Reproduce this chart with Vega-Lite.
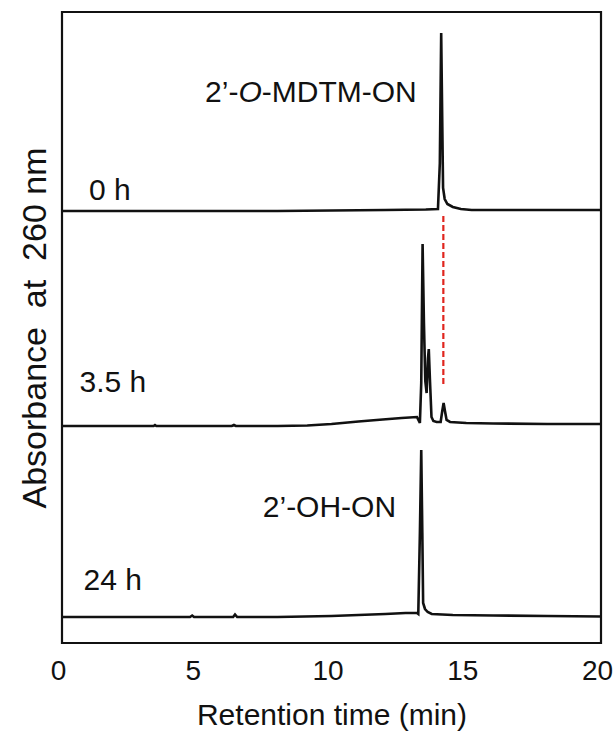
{
  "$schema": "https://vega.github.io/schema/vega-lite/v6.json",
  "width": 539,
  "height": 631,
  "autosize": {"type": "none"},
  "padding": {"left": 62, "top": 12, "right": 14, "bottom": 88},
  "background": "white",
  "config": {
    "view": {"stroke": "#111111", "strokeWidth": 2.2},
    "font": "Liberation Sans",
    "axis": {"grid": false, "domain": false, "ticks": false, "tickSize": 0, "titleFontWeight": "normal", "labelColor": "#111111", "titleColor": "#111111", "labelFont": "Liberation Sans", "titleFont": "Liberation Sans"}
  },
  "datasets": {
    "traces": [
      {"series": "0 h", "t": 0, "a": 432},
      {"series": "0 h", "t": 2, "a": 432},
      {"series": "0 h", "t": 4, "a": 432},
      {"series": "0 h", "t": 6, "a": 432},
      {"series": "0 h", "t": 8, "a": 432},
      {"series": "0 h", "t": 10, "a": 432.5},
      {"series": "0 h", "t": 12, "a": 433},
      {"series": "0 h", "t": 13.5, "a": 433.5},
      {"series": "0 h", "t": 13.95, "a": 434},
      {"series": "0 h", "t": 14.02, "a": 480},
      {"series": "0 h", "t": 14.07, "a": 610},
      {"series": "0 h", "t": 14.11, "a": 520},
      {"series": "0 h", "t": 14.14, "a": 455},
      {"series": "0 h", "t": 14.2, "a": 444},
      {"series": "0 h", "t": 14.3, "a": 439},
      {"series": "0 h", "t": 14.5, "a": 436},
      {"series": "0 h", "t": 14.8, "a": 434},
      {"series": "0 h", "t": 15.2, "a": 433},
      {"series": "0 h", "t": 17, "a": 433},
      {"series": "0 h", "t": 20, "a": 433},
      {"series": "3.5 h", "t": 0, "a": 217},
      {"series": "3.5 h", "t": 3.4, "a": 217},
      {"series": "3.5 h", "t": 3.45, "a": 218},
      {"series": "3.5 h", "t": 3.5, "a": 217},
      {"series": "3.5 h", "t": 6.3, "a": 217},
      {"series": "3.5 h", "t": 6.38, "a": 218},
      {"series": "3.5 h", "t": 6.45, "a": 217},
      {"series": "3.5 h", "t": 8, "a": 217},
      {"series": "3.5 h", "t": 9.1, "a": 217.5},
      {"series": "3.5 h", "t": 10, "a": 219},
      {"series": "3.5 h", "t": 11, "a": 221.5},
      {"series": "3.5 h", "t": 11.9, "a": 223.5},
      {"series": "3.5 h", "t": 12.6, "a": 225},
      {"series": "3.5 h", "t": 13.17, "a": 226},
      {"series": "3.5 h", "t": 13.28, "a": 220},
      {"series": "3.5 h", "t": 13.33, "a": 260},
      {"series": "3.5 h", "t": 13.38, "a": 399},
      {"series": "3.5 h", "t": 13.43, "a": 320},
      {"series": "3.5 h", "t": 13.48, "a": 262},
      {"series": "3.5 h", "t": 13.53, "a": 250},
      {"series": "3.5 h", "t": 13.58, "a": 285},
      {"series": "3.5 h", "t": 13.61, "a": 294},
      {"series": "3.5 h", "t": 13.65, "a": 265},
      {"series": "3.5 h", "t": 13.71, "a": 226},
      {"series": "3.5 h", "t": 13.78, "a": 222},
      {"series": "3.5 h", "t": 13.9, "a": 221},
      {"series": "3.5 h", "t": 14.05, "a": 221},
      {"series": "3.5 h", "t": 14.11, "a": 232},
      {"series": "3.5 h", "t": 14.16, "a": 240},
      {"series": "3.5 h", "t": 14.21, "a": 232},
      {"series": "3.5 h", "t": 14.27, "a": 223},
      {"series": "3.5 h", "t": 14.4, "a": 221},
      {"series": "3.5 h", "t": 15, "a": 220},
      {"series": "3.5 h", "t": 16, "a": 219.5},
      {"series": "3.5 h", "t": 18, "a": 219},
      {"series": "3.5 h", "t": 20, "a": 219},
      {"series": "24 h", "t": 0, "a": 26},
      {"series": "24 h", "t": 4.75, "a": 26},
      {"series": "24 h", "t": 4.83, "a": 27.5},
      {"series": "24 h", "t": 4.9, "a": 26},
      {"series": "24 h", "t": 6.35, "a": 26},
      {"series": "24 h", "t": 6.42, "a": 28.5},
      {"series": "24 h", "t": 6.5, "a": 26},
      {"series": "24 h", "t": 8, "a": 26},
      {"series": "24 h", "t": 10, "a": 27},
      {"series": "24 h", "t": 12, "a": 29},
      {"series": "24 h", "t": 12.75, "a": 30},
      {"series": "24 h", "t": 13.17, "a": 30},
      {"series": "24 h", "t": 13.22, "a": 29},
      {"series": "24 h", "t": 13.28, "a": 110},
      {"series": "24 h", "t": 13.33, "a": 193},
      {"series": "24 h", "t": 13.37, "a": 110},
      {"series": "24 h", "t": 13.4, "a": 40},
      {"series": "24 h", "t": 13.47, "a": 34},
      {"series": "24 h", "t": 13.57, "a": 31},
      {"series": "24 h", "t": 13.72, "a": 29},
      {"series": "24 h", "t": 14.5, "a": 28},
      {"series": "24 h", "t": 16, "a": 27.5},
      {"series": "24 h", "t": 18, "a": 27},
      {"series": "24 h", "t": 20, "a": 26.5}
    ],
    "labels": [
      {"label": "0 h", "t": 1.0, "a": 443},
      {"label": "3.5 h", "t": 0.65, "a": 251},
      {"label": "24 h", "t": 0.8, "a": 53},
      {"label": "2’-OH-ON", "t": 7.45, "a": 126},
      {"label": "2’-", "t": 5.31, "a": 541},
      {"label": "-MDTM-ON", "t": 7.412, "a": 541}
    ],
    "italic": [
      {"label": "O", "t": 6.546, "a": 541}
    ],
    "marker": [
      {"t": 14.15, "a": 427, "a2": 258}
    ]
  },
  "encoding": {
    "x": {"field": "t", "type": "quantitative", "scale": {"domain": [0, 20], "nice": false, "zero": false},
      "axis": {"title": "Retention time (min)", "values": [0, 5, 10, 15, 20], "labelFlush": false, "labelFontSize": 28, "labelPadding": 14, "labelOffset": -4, "titleFontSize": 30, "titlePadding": 15}},
    "y": {"field": "a", "type": "quantitative", "scale": {"domain": [0, 631], "nice": false, "zero": false},
      "axis": {"title": "Absorbance\u00a0\u00a0at\u00a0\u00a0260\u00a0nm", "labels": false, "titleFontSize": 34, "titlePadding": 10}}
  },
  "layer": [
    {
      "data": {"name": "traces"},
      "mark": {"type": "line", "color": "#111111", "strokeWidth": 2.6, "interpolate": "linear"},
      "encoding": {"detail": {"field": "series", "type": "nominal"}}
    },
    {
      "data": {"name": "marker"},
      "mark": {"type": "rule", "color": "#e0251e", "strokeWidth": 2.2, "strokeDash": [6, 3]},
      "encoding": {"y2": {"field": "a2"}}
    },
    {
      "data": {"name": "labels"},
      "mark": {"type": "text", "align": "left", "baseline": "alphabetic", "fontSize": 30, "color": "#111111", "font": "Liberation Sans"},
      "encoding": {"text": {"field": "label"}}
    },
    {
      "data": {"name": "italic"},
      "mark": {"type": "text", "align": "left", "baseline": "alphabetic", "fontSize": 30, "fontStyle": "italic", "color": "#111111", "font": "Liberation Sans"},
      "encoding": {"text": {"field": "label"}}
    }
  ]
}
